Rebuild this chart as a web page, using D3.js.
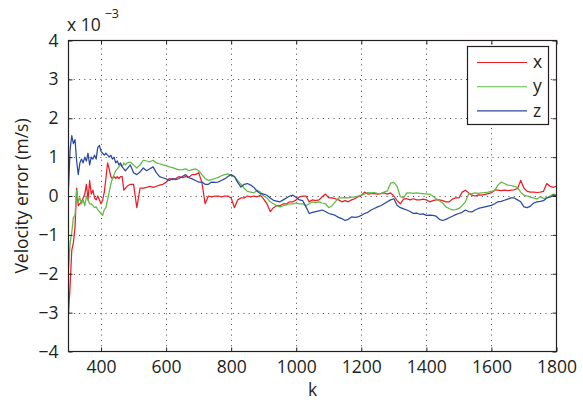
<!DOCTYPE html>
<html>
<head>
<meta charset="utf-8">
<script src="https://cdn.jsdelivr.net/npm/d3@7"></script>
<style>
  html, body { margin: 0; padding: 0; background: #fff; }
  svg { display: block; }
  text { font-family: "Open Sans", "Noto Sans", sans-serif; fill: #231f20; }
</style>
</head>
<body>
<svg id="chart" width="583" height="400"></svg>
<script>
// Sample index k
const kSteps = [
  300,305,310,315,320,325,330,335,340,345,350,355,360,365,370,375,380,385,390,395,
  400,405,410,415,420,425,430,435,440,445,450,455,460,465,470,475,480,
  490,500,510,520,530,540,550,560,570,580,590,600,610,620,630,640,650,660,670,680,
  690,700,710,720,730,740,750,760,770,780,790,800,810,820,830,840,850,860,870,880,
  890,900,910,920,930,940,950,960,970,980,990,1000,1010,1020,1030,1040,1050,1060,1070,1080,
  1090,1100,1110,1120,1130,1140,1150,1160,1170,1180,1190,1200,1210,1220,1230,1240,1250,1260,1270,1280,
  1290,1300,1310,1320,1330,1340,1350,1360,1370,1380,1390,1400,1410,1420,1430,1440,1450,1460,1470,1480,
  1490,1500,1510,1520,1530,1540,1550,1560,1570,1580,1590,1600,1610,1620,1630,1640,1650,1660,1670,1680,
  1690,1700,1710,1720,1730,1740,1750,1760,1770,1780,1790,1800
];

// Velocity error, units of 1e-3 m/s
const errX = [
  -3.0,-2.3,-1.4,-1.2,-0.8,0.2,-0.25,-0.2,-0.15,-0.05,0.05,0.3,-0.1,0.4,0.05,0.15,-0.05,-0.1,0.0,-0.1,
  -0.2,-0.1,0.1,0.45,0.85,0.7,0.5,0.45,0.5,0.45,0.5,0.45,0.5,0.5,0.15,0.2,0.25,
  0.3,0.3,-0.3,0.2,0.2,0.22,0.25,0.22,0.25,0.28,0.3,0.35,0.45,0.42,0.45,0.5,0.47,0.5,0.48,0.55,
  0.55,0.6,0.35,-0.2,0.0,-0.02,0.0,0.0,-0.02,0.0,0.0,-0.05,-0.3,-0.1,-0.05,-0.05,0.0,-0.02,0.0,-0.02,
  0.02,-0.08,-0.2,-0.4,-0.3,-0.25,-0.25,-0.2,-0.2,-0.15,-0.15,-0.1,-0.02,0.0,0.0,-0.15,-0.1,-0.12,-0.1,-0.02,
  0.05,-0.05,-0.05,-0.07,-0.1,-0.15,-0.12,-0.15,-0.1,-0.07,-0.02,0.02,0.1,0.05,0.06,0.06,0.05,0.06,0.08,0.05,
  0.08,0.0,-0.12,-0.2,-0.08,-0.07,-0.1,-0.07,-0.1,-0.1,-0.08,-0.1,-0.15,-0.12,-0.1,-0.1,-0.12,-0.15,-0.15,-0.08,
  -0.05,-0.05,0.1,0.15,0.08,0.02,0.0,0.03,0.02,0.04,0.06,0.08,0.15,0.15,0.14,0.15,0.14,0.15,0.16,0.19,
  0.4,0.2,0.12,0.1,0.1,0.09,0.1,0.12,0.32,0.25,0.22,0.25
];

const errY = [
  -1.9,-1.2,-0.95,-0.55,-0.5,0.15,-0.15,-0.05,-0.2,-0.1,-0.25,0.0,-0.1,-0.2,-0.2,-0.25,-0.3,-0.28,-0.35,-0.4,
  -0.45,-0.5,-0.35,-0.3,-0.1,0.1,0.3,0.45,0.55,0.65,0.7,0.75,0.8,0.75,0.85,0.8,0.85,
  0.87,0.8,0.72,0.8,0.92,0.9,0.88,0.92,0.85,0.83,0.8,0.78,0.75,0.73,0.7,0.67,0.68,0.7,0.65,0.68,
  0.7,0.65,0.55,0.45,0.4,0.42,0.45,0.48,0.52,0.55,0.57,0.52,0.5,0.4,0.3,0.2,0.12,0.1,0.08,0.15,
  0.1,0.0,-0.05,-0.15,-0.2,-0.25,-0.28,-0.25,-0.23,-0.2,-0.2,-0.18,-0.2,-0.2,-0.25,-0.2,-0.15,-0.17,-0.15,-0.18,
  -0.2,-0.3,-0.25,-0.15,-0.05,-0.05,-0.04,-0.05,-0.03,-0.03,0.0,0.02,0.05,0.09,0.08,0.09,0.07,0.06,0.1,0.13,
  0.33,0.35,0.25,-0.02,-0.05,0.08,0.08,0.07,0.08,0.07,0.06,0.05,0.05,0.0,-0.07,-0.12,-0.18,-0.28,-0.32,-0.36,
  -0.35,-0.32,-0.25,-0.15,0.05,0.06,0.08,0.07,0.08,0.09,0.1,0.12,0.14,0.28,0.36,0.32,0.28,0.27,0.25,0.22,
  0.1,0.02,0.0,-0.03,-0.05,-0.08,-0.02,-0.06,-0.05,0.0,0.05,0.03
];

const errZ = [
  0.2,1.2,1.55,1.35,1.45,0.9,0.55,0.85,0.95,0.85,1.0,0.9,1.1,0.8,1.0,0.95,1.05,0.95,1.25,1.3,
  1.15,1.1,1.05,1.1,1.05,1.0,1.05,0.95,1.0,0.85,0.9,0.8,0.85,0.75,0.7,0.65,0.7,
  0.8,0.6,0.55,0.62,0.72,0.65,0.7,0.75,0.6,0.5,0.47,0.44,0.4,0.45,0.42,0.45,0.5,0.55,0.47,0.44,
  0.4,0.36,0.36,0.3,0.3,0.36,0.35,0.36,0.4,0.44,0.5,0.55,0.5,0.35,0.23,0.3,0.32,0.28,0.22,0.12,
  0.06,0.05,0.02,-0.05,-0.11,-0.13,-0.15,-0.1,-0.05,0.0,0.02,-0.04,-0.1,-0.12,-0.28,-0.45,-0.42,-0.4,-0.38,-0.36,
  -0.4,-0.45,-0.47,-0.5,-0.55,-0.58,-0.63,-0.6,-0.54,-0.55,-0.54,-0.5,-0.45,-0.42,-0.36,-0.32,-0.28,-0.25,-0.2,-0.15,
  -0.1,-0.07,-0.24,-0.3,-0.33,-0.36,-0.4,-0.45,-0.44,-0.47,-0.46,-0.5,-0.49,-0.5,-0.52,-0.6,-0.63,-0.6,-0.56,-0.52,
  -0.48,-0.45,-0.42,-0.36,-0.4,-0.41,-0.36,-0.32,-0.3,-0.28,-0.26,-0.24,-0.2,-0.15,-0.14,-0.11,-0.08,-0.05,-0.05,-0.1,
  -0.15,-0.28,-0.3,-0.26,-0.18,-0.15,-0.14,-0.12,-0.05,-0.03,0.02,0.0
];

const seriesNames = ["x", "y", "z"];
const seriesColors = ["#ee1c24", "#5dbb46", "#2b4a9e"];
const xTicks = [400, 600, 800, 1000, 1200, 1400, 1600, 1800];
const yTicks = [-4, -3, -2, -1, 0, 1, 2, 3, 4];

(function drawChart() {
  const svg = d3.select("#chart");
  const pL = 68.5, pR = 556.5, pT = 40.5, pB = 351.5;
  const labelSize = 17.5;

  const x = d3.scaleLinear().domain([300, 1800]).range([pL, pR]);
  const y = d3.scaleLinear().domain([-4, 4]).range([pB, pT]);

  // dotted grid
  const grid = svg.append("g").attr("stroke", "#444").attr("stroke-width", 1)
    .attr("stroke-dasharray", "1,4.3");
  xTicks.filter(t => t > 300 && t < 1800).forEach(t => {
    const px = Math.round(x(t)) + 0.5;
    grid.append("line").attr("x1", px).attr("x2", px).attr("y1", pB).attr("y2", pT);
  });
  yTicks.filter(t => t > -4 && t < 4).forEach(t => {
    const py = Math.round(y(t)) + 0.5;
    grid.append("line").attr("y1", py).attr("y2", py).attr("x1", pL).attr("x2", pR);
  });

  // series lines
  const line = d3.line().x((d, i) => x(kSteps[i])).y(d => y(d));
  svg.append("clipPath").attr("id", "plotClip")
    .append("rect").attr("x", pL).attr("y", pT).attr("width", pR - pL).attr("height", pB - pT);
  const lines = svg.append("g").attr("clip-path", "url(#plotClip)");
  [errX, errY, errZ].forEach((vals, i) => {
    lines.append("path").datum(vals).attr("d", line)
      .attr("fill", "none").attr("stroke", seriesColors[i])
      .attr("stroke-width", 1.25).attr("stroke-linejoin", "round");
  });

  // axes (ticks inward, box on all four sides)
  const tickLen = 4;
  const intFmt = d3.format("d");
  svg.append("g").attr("transform", `translate(0,${pB})`)
    .call(d3.axisBottom(x).tickValues(xTicks).tickFormat(intFmt)
      .tickSizeInner(-tickLen).tickSizeOuter(0).tickPadding(9))
    .call(g => g.selectAll("text").attr("font-size", labelSize).attr("dy", "0.71em"));
  svg.append("g").attr("transform", `translate(0,${pT})`)
    .call(d3.axisTop(x).tickValues(xTicks).tickSizeInner(-tickLen).tickSizeOuter(0).tickFormat(""));
  svg.append("g").attr("transform", `translate(${pL},0)`)
    .call(d3.axisLeft(y).tickValues(yTicks).tickSizeInner(-tickLen).tickSizeOuter(0).tickPadding(10))
    .call(g => g.selectAll("text").attr("font-size", labelSize));
  svg.append("g").attr("transform", `translate(${pR},0)`)
    .call(d3.axisRight(y).tickValues(yTicks).tickSizeInner(-tickLen).tickSizeOuter(0).tickFormat(""));
  svg.selectAll(".domain").remove();
  svg.selectAll(".tick line").attr("stroke", "#231f20");
  svg.selectAll(".tick text").attr("fill", "#231f20").attr("font-family", "'Open Sans', sans-serif");

  svg.append("rect").attr("x", pL).attr("y", pT).attr("width", pR - pL).attr("height", pB - pT)
    .attr("fill", "none").attr("stroke", "#231f20").attr("stroke-width", 1.2);

  // exponent note
  const expo = svg.append("text").attr("x", 67).attr("y", 31).attr("font-size", labelSize);
  expo.append("tspan").text("x 10");
  expo.append("tspan").attr("font-size", 12.5).attr("dx", 4).attr("dy", -13).text("\u22123");

  // axis titles
  svg.append("text").attr("x", (pL + pR) / 2).attr("y", 396).attr("text-anchor", "middle")
    .attr("font-size", labelSize).text("k");
  svg.append("text").attr("transform", `translate(28,${(pT + pB) / 2}) rotate(-90)`)
    .attr("text-anchor", "middle").attr("font-size", labelSize).text("Velocity error (m/s)");

  // legend
  const lg = svg.append("g");
  lg.append("rect").attr("x", 467.5).attr("y", 46.5).attr("width", 81).attr("height", 78)
    .attr("fill", "#fff").attr("stroke", "#231f20").attr("stroke-width", 1.2);
  seriesNames.forEach((name, i) => {
    const ly = 62.5 + i * 24.2;
    lg.append("line").attr("x1", 477).attr("x2", 527).attr("y1", ly).attr("y2", ly)
      .attr("stroke", seriesColors[i]).attr("stroke-width", 1.1);
    lg.append("text").attr("x", 533).attr("y", ly).attr("dy", "0.32em").attr("font-size", labelSize).text(name);
  });
})();
</script>
</body>
</html>
